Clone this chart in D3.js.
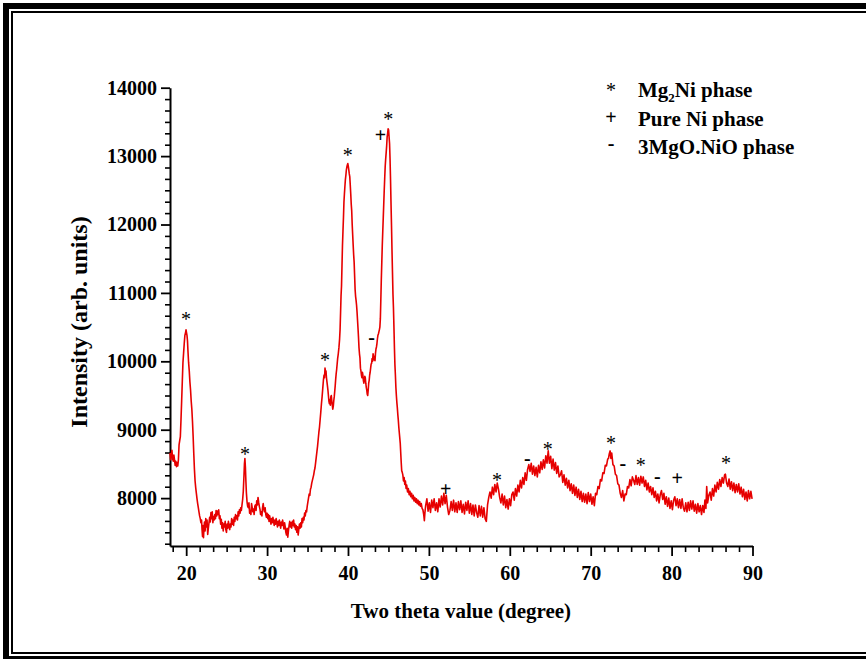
<!DOCTYPE html>
<html>
<head>
<meta charset="utf-8">
<script src="https://cdn.jsdelivr.net/npm/d3@7"></script>
<style>
  html, body { margin: 0; padding: 0; background: #fff; }
  svg { display: block; font-family: "Liberation Serif", "Times New Roman", serif; }
</style>
</head>
<body>
<svg id="chart" width="866" height="659"></svg>
<script>
// XRD scan: [two theta (deg), intensity (arb. units)]
const scanLowAngle = [
  [18.00,8660],[18.08,8560],[18.16,8640],[18.24,8700],[18.32,8580],[18.40,8540],[18.48,8630],[18.56,8560],[18.64,8480],[18.72,8540],
  [18.80,8460],[18.88,8520],[18.96,8470],[19.04,8560],[19.12,8780],[19.20,8840],[19.28,8900],[19.36,9150],[19.44,9420],[19.52,9700],
  [19.60,9980],[19.68,10120],[19.76,10260],[19.84,10380],[19.92,10420],[19.98,10460],[20.04,10420],[20.10,10380],[20.16,10300],[20.22,10150],
  [20.30,9980],[20.38,9860],[20.46,9700],[20.54,9580],[20.62,9420],[20.70,9300],[20.78,9120],[20.86,8900],[20.94,8650],[21.02,8420],
  [21.10,8250],[21.18,8150],[21.26,8070],[21.34,7990],[21.42,7920],[21.50,7860],[21.58,7800],[21.66,7740],[21.74,7700],[21.82,7640],
  [21.90,7680],[21.96,7540],[22.02,7440],[22.08,7600],[22.14,7420],[22.20,7560],[22.26,7650],[22.34,7520],[22.42,7700],[22.50,7580],
  [22.58,7680],[22.66,7470],[22.74,7560],[22.82,7640],[22.90,7720],[22.98,7650],[23.06,7790],[23.14,7700],[23.22,7800],[23.30,7640],
  [23.38,7730],[23.46,7680],[23.54,7760],[23.62,7700],[23.70,7820],[23.78,7740],[23.86,7810],[23.94,7760],[24.02,7830],[24.10,7700],
  [24.18,7740],[24.26,7620],[24.34,7690],[24.42,7560],[24.50,7640],[24.58,7520],[24.66,7620],[24.74,7580],[24.82,7660],[24.90,7540],
  [24.98,7500],[25.06,7620],[25.14,7560],[25.22,7660],[25.30,7600],[25.38,7540],[25.46,7620],[25.54,7580],[25.62,7700],[25.70,7620],
  [25.78,7680],[25.86,7600],[25.94,7720],[26.02,7660],[26.10,7760],[26.18,7700],[26.26,7740],[26.34,7680],[26.42,7800],[26.50,7740],
  [26.58,7830],[26.66,7780],[26.74,7860],[26.82,7820],[26.90,7900],[26.98,7980],[27.06,8100],[27.14,8320],[27.20,8500],[27.26,8580],
  [27.32,8450],[27.38,8250],[27.44,8080],[27.52,7950],[27.60,7880]
];

const scanMidAngle = [
  [27.68,7860],[27.76,7930],[27.84,7780],[27.92,7820],[28.00,7760],[28.08,7920],[28.16,7860],[28.24,7800],[28.32,7840],[28.40,7760],
  [28.48,7880],[28.56,7900],[28.64,7820],[28.72,7960],[28.80,7900],[28.88,8010],[28.96,7940],[29.04,7880],[29.12,7840],[29.20,7760],
  [29.28,7800],[29.36,7740],[29.44,7860],[29.52,7920],[29.60,7840],[29.68,7800],[29.76,7860],[29.84,7760],[29.92,7720],[30.00,7780],
  [30.08,7700],[30.16,7760],[30.24,7660],[30.32,7740],[30.40,7680],[30.48,7620],[30.56,7700],[30.64,7640],[30.72,7720],[30.80,7660],
  [30.88,7600],[30.96,7680],[31.04,7620],[31.12,7700],[31.20,7640],[31.28,7580],[31.36,7660],[31.44,7600],[31.52,7680],[31.60,7620],
  [31.68,7560],[31.76,7650],[31.84,7600],[31.92,7680],[32.00,7620],[32.08,7550],[32.16,7640],[32.24,7580],[32.32,7500],[32.40,7460],
  [32.48,7560],[32.56,7430],[32.64,7520],[32.72,7600],[32.80,7660],[32.88,7580],[32.96,7640],[33.04,7560],[33.12,7660],[33.20,7600],
  [33.28,7680],[33.36,7580],[33.44,7620],[33.52,7540],[33.60,7600],[33.68,7500],[33.76,7580],[33.84,7460],[33.92,7540],[34.00,7620],
  [34.08,7560],[34.16,7640],[34.24,7580],[34.32,7700],[34.40,7640],[34.48,7720],[34.56,7680],[34.64,7780],[34.72,7740],[34.80,7820],
  [34.88,7800],[34.96,7880],[35.04,7940]
];

const scanMainPeaks = [
  [35.12,8000],[35.20,8060],[35.28,8040],[35.36,8130],[35.44,8160],[35.52,8220],[35.60,8260],[35.68,8300],[35.76,8340],[35.84,8400],
  [35.92,8440],[36.00,8520],[36.08,8600],[36.16,8680],[36.24,8760],[36.32,8860],[36.40,8960],[36.48,9040],[36.56,9150],[36.64,9260],
  [36.72,9380],[36.80,9480],[36.88,9600],[36.96,9720],[37.04,9800],[37.10,9760],[37.16,9900],[37.22,9840],[37.28,9860],[37.34,9760],
  [37.40,9700],[37.46,9640],[37.52,9580],[37.58,9500],[37.64,9420],[37.70,9380],[37.76,9440],[37.82,9360],[37.88,9480],[37.94,9500],
  [38.00,9420],[38.06,9360],[38.12,9300],[38.18,9340],[38.24,9420],[38.30,9480],[38.36,9560],[38.42,9640],[38.48,9740],[38.54,9820],
  [38.60,9880],[38.66,9960],[38.72,10040],[38.80,10110],[38.88,10200],[38.96,10320],[39.02,10460],[39.08,10700],[39.14,10950],[39.20,11100],
  [39.26,11400],[39.32,11700],[39.38,11900],[39.44,12100],[39.50,12330],[39.56,12450],[39.62,12560],[39.68,12660],[39.74,12720],[39.80,12800],
  [39.86,12840],[39.92,12870],[39.98,12890],[40.04,12850],[40.10,12800],[40.16,12740],[40.22,12700],[40.28,12580],[40.34,12450],[40.40,12300],
  [40.46,12200],[40.52,12000],[40.58,11850],[40.64,11700],[40.70,11560],[40.76,11450],[40.82,11250],[40.88,11050],[40.94,10950],[41.00,10890],
  [41.06,10820],[41.12,10720],[41.18,10600],[41.24,10480],[41.30,10350],[41.36,10200],[41.42,10110],[41.48,10050],[41.54,9900],[41.60,9860],
  [41.66,9800],[41.72,9760],[41.78,9840],[41.84,9800],[41.90,9720],[41.96,9680],[42.02,9740],[42.08,9780],[42.14,9760],[42.20,9680],
  [42.26,9620],[42.32,9580],[42.38,9520],[42.44,9500],[42.50,9580],[42.56,9680],[42.62,9720],[42.68,9800],[42.74,9840],[42.80,9900],
  [42.86,9960],[42.92,9970],[42.98,10040],[43.04,10000],[43.10,10110],[43.16,10080],[43.22,10020],[43.28,10060],[43.34,10010],[43.40,10120],
  [43.46,10180],[43.52,10210],[43.58,10260],[43.64,10330],[43.70,10380],[43.76,10400],[43.82,10430],[43.88,10460],[43.94,10500],[44.00,10620],
  [44.06,10900],[44.12,11200],[44.18,11450],[44.24,11700],[44.30,11900],[44.36,12100],[44.42,12300],[44.48,12500],[44.54,12680],[44.60,12850],
  [44.66,12960],[44.72,13050],[44.78,13150],[44.84,13280],[44.90,13330],[44.96,13400],[45.02,13380],[45.08,13280],[45.14,13180],[45.20,12950],
  [45.26,12650],[45.32,12300],[45.38,11980],[45.44,11620],[45.50,11300],[45.56,10980],[45.62,10780],[45.68,10500],[45.74,10200],[45.80,9950],
  [45.86,9800],[45.92,9620],[45.98,9500],[46.04,9400],[46.10,9320],[46.16,9220],[46.22,9140],[46.28,9040],[46.34,8960],[46.40,8880],
  [46.46,8800],[46.52,8660],[46.58,8520],[46.64,8400],[46.70,8380],[46.78,8340],[46.86,8250],[46.94,8300],[47.02,8200],[47.10,8250],
  [47.18,8140],[47.26,8190],[47.36,8090],[47.46,8140],[47.56,8050],[47.66,8100],[47.76,8020],[47.86,8070],[47.96,7990],[48.06,8040],
  [48.16,7960],[48.26,8010],[48.36,7940],[48.46,7990],[48.56,7920],[48.66,7970],[48.76,7900],[48.86,7950],[48.96,7880],[49.06,7920],
  [49.16,7850],[49.26,7830],[49.36,7760],[49.44,7670],[49.52,7800]
];

const scanHighAngle = [
  [49.60,7890],[49.75,7990],[49.90,7810],[50.05,7930],[50.20,7790],[50.35,7970],[50.50,7860],[50.65,7990],[50.80,7820],[50.95,7930],
  [51.10,7800],[51.25,7990],[51.40,7870],[51.55,8030],[51.70,7900],[51.85,8070],[52.00,7920],[52.15,8040],[52.30,7870],[52.45,7760],
  [52.60,7820],[52.75,7950],[52.90,7820],[53.05,7970],[53.20,7800],[53.35,7930],[53.50,7790],[53.65,7950],[53.80,7830],[53.95,7960],
  [54.10,7790],[54.25,7910],[54.40,7770],[54.55,7940],[54.70,7820],[54.85,7960],[55.00,7780],[55.15,7920],[55.30,7760],[55.45,7900],
  [55.60,7740],[55.75,7900],[55.90,7790],[56.05,7720],[56.20,7890],[56.35,7740],[56.50,7880],[56.65,7720],[56.80,7860],[56.95,7700],
  [57.10,7660],[57.25,7900],[57.40,8010],[57.55,8090],[57.70,8000],[57.85,8160],[58.00,8050],[58.15,8200],[58.30,8090],[58.45,8220],
  [58.60,8130],[58.75,8010],[58.90,7930],[59.05,8060],[59.20,7900],[59.35,8030],[59.50,7860],[59.65,7980],[59.80,7840],[59.95,7990],
  [60.10,7890],[60.25,8050],[60.40,8090],[60.55,7970],[60.70,8140],[60.85,8030],[61.00,8190],[61.15,8090],[61.30,8260],[61.45,8150],
  [61.60,8300],[61.75,8200],[61.90,8370],[62.05,8260],[62.20,8420],[62.35,8490],[62.50,8390],[62.65,8510],[62.80,8350],[62.95,8470],
  [63.10,8330],[63.25,8450],[63.40,8310],[63.55,8480],[63.70,8370],[63.85,8530],[64.00,8420],[64.15,8560],[64.30,8440],[64.45,8620],
  [64.60,8510],[64.75,8690],[64.90,8510],[65.05,8610],[65.20,8430],[65.35,8570],[65.50,8410],[65.65,8520],[65.80,8360],[65.95,8470],
  [66.10,8310],[66.25,8340],[66.40,8400],[66.55,8230],[66.70,8340],[66.85,8190],[67.00,8290],[67.15,8150],[67.30,8260],[67.45,8110],
  [67.60,8210],[67.75,8070],[67.90,8190],[68.05,8040],[68.20,8160],[68.35,8010],[68.50,8130],[68.65,7980],[68.80,8100],[68.95,7950],
  [69.10,8070],[69.25,7940],[69.40,8060],[69.55,7920],[69.70,8080],[69.85,7950],[70.00,8060],[70.15,7910],[70.30,8020],[70.45,7890],
  [70.60,8070],[70.75,8050],[70.90,8170],[71.05,8140],[71.20,8270],[71.35,8250],[71.50,8370],[71.65,8360],[71.80,8480],[71.95,8470],
  [72.10,8570],[72.20,8580],[72.30,8650],[72.40,8690],[72.50,8580],[72.60,8660],[72.75,8490],[72.90,8470],[73.05,8350],[73.20,8330],
  [73.35,8210],[73.50,8190],[73.65,8070],[73.80,8010],[73.95,8110],[74.10,7960],[74.25,8060],[74.40,8050],[74.55,8170],[74.70,8150],
  [74.85,8270],[75.00,8180],[75.15,8310],[75.30,8260],[75.45,8200],[75.60,8330],[75.75,8200],[75.90,8300],[76.05,8190],[76.20,8320],
  [76.35,8220],[76.50,8310],[76.65,8170],[76.80,8260],[76.95,8120],[77.10,8220],[77.25,8090],[77.40,8170],[77.55,8050],[77.70,8150],
  [77.85,8010],[78.00,8100],[78.15,7960],[78.30,8060],[78.45,7930],[78.60,8050],[78.75,8110],[78.90,7980],[79.05,8070],[79.20,7910],
  [79.35,8020],[79.50,7880],[79.65,8000],[79.80,7850],[79.95,7960],[80.10,7830],[80.25,7970],[80.40,8020],[80.55,7890],[80.70,7990],
  [80.85,7860],[81.00,7980],[81.15,7850],[81.30,7990],[81.45,7860],[81.60,7810],[81.75,7930],[81.90,7800],[82.05,7940],[82.20,7820],
  [82.35,7960],[82.50,7840],[82.65,7960],[82.80,7810],[82.95,7910],[83.10,7780],[83.25,7920],[83.40,7800],[83.55,7890],[83.70,7760],
  [83.85,7890],[84.00,7790],[84.12,7970],[84.24,7850],[84.34,8170],[84.45,7930],[84.60,8040],[84.75,8090],[84.90,7970],[85.05,8140],
  [85.20,8030],[85.35,8190],[85.50,8090],[85.65,8230],[85.80,8130],[85.95,8270],[86.10,8170],[86.25,8300],[86.40,8220],[86.55,8340],
  [86.65,8350],[86.80,8220],[86.95,8170],[87.10,8280],[87.25,8130],[87.40,8240],[87.55,8110],[87.70,8220],[87.85,8080],[88.00,8200],
  [88.15,8090],[88.30,8210],[88.45,8060],[88.60,8160],[88.75,8020],[88.90,8130],[89.05,7980],[89.20,8090],[89.35,7960],[89.50,8110],
  [89.65,7990],[89.80,8100],[89.95,7990]
];

// Phase markers placed over reflections: [two theta, intensity at marker centre]
const mg2niMarks = [[19.98,10643],[27.27,8666],[37.16,10042],[39.97,13044],[44.98,13571],[58.42,8285],[64.69,8739],[72.51,8827],[76.18,8505],[86.72,8534]];
const niMarks    = [[44.02,13300],[52.08,8124],[80.70,8285]];
const mgoNioMarks = [[42.93,10321],[62.17,8549],[73.96,8476],[78.23,8285]];

// Axis ticks
const xTickValues = [20, 30, 40, 50, 60, 70, 80, 90];
const yTickValues = [8000, 9000, 10000, 11000, 12000, 13000, 14000];

// Legend
const legendSymbols = ["*", "+", "-"];
const legendLabels = [["Mg", "2", "Ni phase"], ["Pure Ni phase"], ["3MgO.NiO phase"]];

const scan = [].concat(scanLowAngle, scanMidAngle, scanMainPeaks, scanHighAngle);

const svg = d3.select("#chart");
const FONT = '"Liberation Serif", "Times New Roman", serif';

// Double black frame around the figure
svg.append("rect").attr("x", 6).attr("y", 6).attr("width", 870).attr("height", 653)
  .attr("fill", "none").attr("stroke", "#000").attr("stroke-width", 6);
svg.append("rect").attr("x", 12).attr("y", 12).attr("width", 870).attr("height", 641)
  .attr("fill", "none").attr("stroke", "#000").attr("stroke-width", 2);

const x = d3.scaleLinear().domain([18, 90]).range([170, 752.5]);
const y = d3.scaleLinear().domain([7300, 14000]).range([546, 87.7]);

const xMinor = d3.range(20 - 10 / 6, 90.001, 10 / 6).filter(v => v >= 18 && Math.abs(v / 10 - Math.round(v / 10)) > 1e-6);
const yMinor = d3.range(14000, 7299, -1000 / 6).filter(v => v >= 7300 && Math.abs(v / 1000 - Math.round(v / 1000)) > 1e-6);

// Minor ticks
svg.append("g").attr("transform", "translate(0,546)")
  .call(d3.axisBottom(x).tickValues(xMinor).tickSize(6).tickSizeOuter(0).tickFormat(""))
  .call(g => g.select(".domain").remove())
  .selectAll("line").attr("stroke", "#000").attr("stroke-width", 1.6);
svg.append("g").attr("transform", "translate(170,0)")
  .call(d3.axisLeft(y).tickValues(yMinor).tickSize(5).tickSizeOuter(0).tickFormat(""))
  .call(g => g.select(".domain").remove())
  .selectAll("line").attr("stroke", "#000").attr("stroke-width", 1.6);

// Major ticks and labels
const gx = svg.append("g").attr("transform", "translate(0,546)")
  .call(d3.axisBottom(x).tickValues(xTickValues).tickSize(10).tickSizeOuter(0).tickFormat(d3.format("d")));
gx.select(".domain").attr("stroke", "#000").attr("stroke-width", 2);
gx.selectAll(".tick line").attr("stroke", "#000").attr("stroke-width", 1.8);
gx.selectAll(".tick text").attr("y", 34).attr("dy", 0)
  .attr("font-family", FONT).attr("font-size", 20).attr("font-weight", "bold").attr("fill", "#000");

const gy = svg.append("g").attr("transform", "translate(170,0)")
  .call(d3.axisLeft(y).tickValues(yTickValues).tickSize(9).tickSizeOuter(0).tickFormat(d3.format("d")));
gy.select(".domain").attr("stroke", "#000").attr("stroke-width", 2);
gy.selectAll(".tick line").attr("stroke", "#000").attr("stroke-width", 1.8);
gy.selectAll(".tick text").attr("x", -13).attr("dy", "0.32em")
  .attr("font-family", FONT).attr("font-size", 20).attr("font-weight", "bold").attr("fill", "#000");

// Axis titles
svg.append("text").attr("x", 461).attr("y", 618).attr("text-anchor", "middle")
  .attr("font-family", FONT).attr("font-size", 21).attr("font-weight", "bold")
  .text("Two theta value (degree)");
svg.append("text").attr("transform", "translate(87,322) rotate(-90)").attr("text-anchor", "middle")
  .attr("font-family", FONT).attr("font-size", 24).attr("font-weight", "bold")
  .text("Intensity (arb. units)");

// Diffraction pattern
const line = d3.line().x(d => x(d[0])).y(d => y(d[1]));
svg.append("path").datum(scan)
  .attr("d", line).attr("fill", "none").attr("stroke", "#e60000")
  .attr("stroke-width", 1.6).attr("stroke-linejoin", "round");

// Phase markers (centre of each glyph sits on its point)
const glyphOffset = { "*": 8.5, "+": 6.5, "-": 4.5 };
function drawMarks(data, sym) {
  svg.append("g").selectAll("text").data(data).join("text")
    .attr("x", d => x(d[0])).attr("y", d => y(d[1]) + glyphOffset[sym])
    .attr("text-anchor", "middle")
    .attr("font-family", FONT).attr("font-size", 20)
    .attr("font-weight", sym === "*" ? "normal" : "bold")
    .text(sym);
}
drawMarks(mg2niMarks, "*");
drawMarks(niMarks, "+");
drawMarks(mgoNioMarks, "-");

// Legend
const legendBaselines = [97, 125.5, 154];
const legendMarkCentres = [88.3, 117.5, 145];
legendSymbols.forEach((s, i) => {
  svg.append("text").attr("x", 611).attr("y", legendMarkCentres[i] + glyphOffset[s])
    .attr("text-anchor", "middle").attr("font-family", FONT).attr("font-size", 20)
    .attr("font-weight", s === "*" ? "normal" : "bold").text(s);
  const t = svg.append("text").attr("x", 638).attr("y", legendBaselines[i])
    .attr("font-family", FONT).attr("font-size", 21).attr("font-weight", "bold");
  const parts = legendLabels[i];
  if (parts.length === 3) {
    t.append("tspan").text(parts[0]);
    t.append("tspan").attr("font-size", 13).attr("dy", 5).text(parts[1]);
    t.append("tspan").attr("dy", -5).text(parts[2]);
  } else {
    t.text(parts[0]);
  }
});
</script>
</body>
</html>
